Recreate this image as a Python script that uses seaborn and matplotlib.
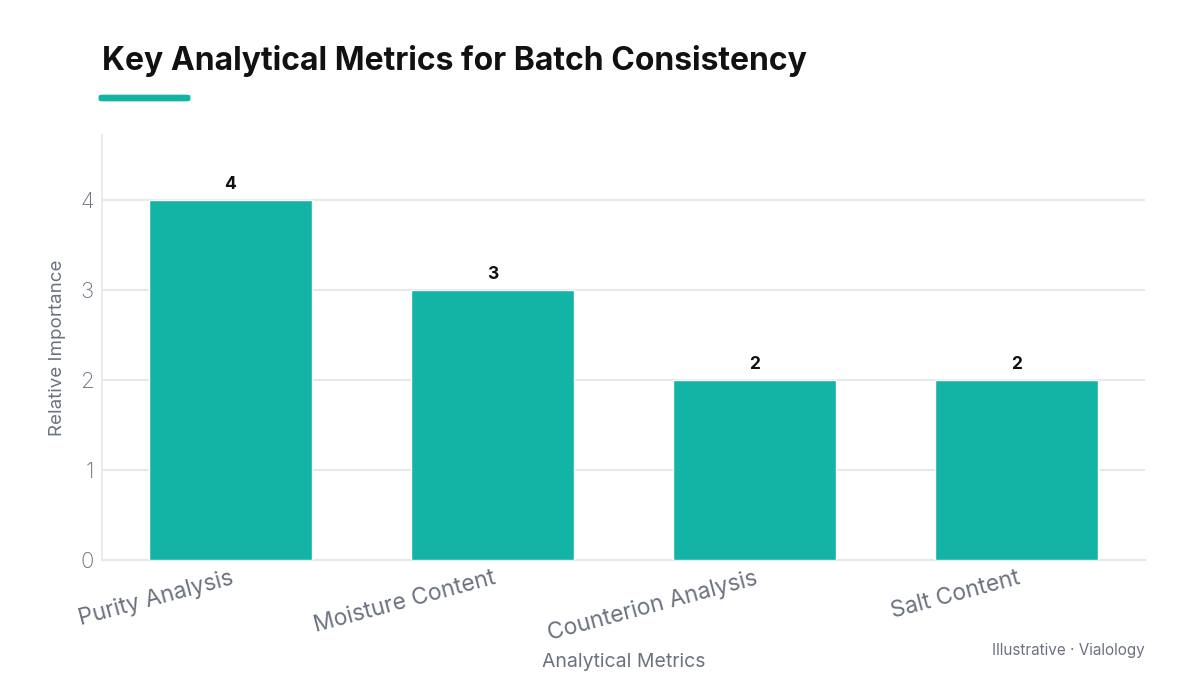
import numpy as np
import pandas as pd
import seaborn as sns
import matplotlib.pyplot as plt
from matplotlib.patches import FancyBboxPatch

# data
metrics = ["Purity Analysis", "Moisture Content", "Counterion Analysis", "Salt Content"]
importance = [4, 3, 2, 2]

teal = "#13B3A6"
gray_txt = "#6B7280"
grid_col = "#E5E9EA"

sns.set_theme(style="white")
plt.rcParams["font.family"] = ["Inter", "DejaVu Sans"]

df = pd.DataFrame({"metric": metrics, "value": importance})

fig = plt.figure(figsize=(12, 6.75), dpi=100)
ax = fig.add_axes([102 / 1200, 1 - 560 / 675, (1145 - 102) / 1200, (560 - 135) / 675])

sns.barplot(data=df, x="metric", y="value", color=teal, width=0.62,
            saturation=1, ax=ax, zorder=3)

ax.set_ylim(0, 4.72)
ax.set_xlim(-0.49, 3.49)
ax.set_yticks([0, 1, 2, 3, 4])
ax.yaxis.grid(True, color=grid_col, linewidth=1.5, zorder=0)
ax.set_axisbelow(True)

for s in ["top", "right"]:
    ax.spines[s].set_visible(False)
ax.spines["left"].set_color(grid_col)
ax.spines["bottom"].set_color(grid_col)
ax.spines["left"].set_linewidth(1.2)
ax.spines["bottom"].set_linewidth(1.5)

ax.tick_params(axis="y", length=0, labelsize=16, labelcolor=gray_txt, pad=6)
ax.tick_params(axis="x", length=0, labelsize=16.5, labelcolor=gray_txt, pad=5)
plt.setp(ax.get_xticklabels(), rotation=15, ha="right", rotation_mode="anchor")
for lab in ax.get_yticklabels():
    lab.set_fontweight("light")

ax.set_xlabel("Analytical Metrics", fontsize=14, color=gray_txt)
ax.xaxis.set_label_coords(0.5, -0.218)
ax.set_ylabel("Relative Importance", fontsize=13.5, color=gray_txt, labelpad=10)

# value labels
for i, v in enumerate(importance):
    ax.text(i, v + 0.08, str(v), ha="center", va="bottom", fontsize=12.5,
            fontweight="bold", color="#111111")

# title + accent bar
fig.text(102 / 1200, 1 - 61 / 675, "Key Analytical Metrics for Batch Consistency",
         fontsize=23, fontweight="bold", color="#111111", ha="left", va="center")
fig.patches.append(FancyBboxPatch((101 / 1200, 1 - 100 / 675), 87 / 1200, 4 / 675,
                                  boxstyle="round,pad=0.002,rounding_size=0.003",
                                  transform=fig.transFigure, color=teal,
                                  linewidth=0))

fig.text(1145 / 1200, 1 - 650 / 675, "Illustrative · Vialology", fontsize=11,
         color=gray_txt, ha="right", va="center")

fig.savefig("out.png", dpi=100)
